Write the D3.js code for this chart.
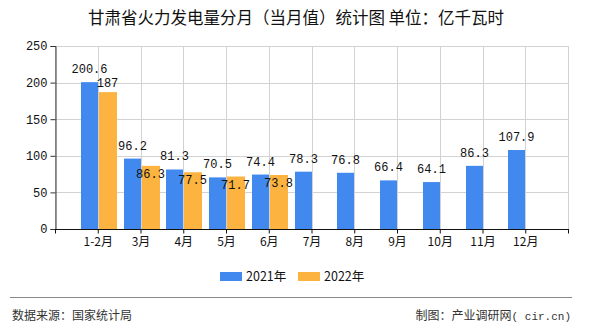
<!DOCTYPE html>
<html><head><meta charset="utf-8">
<script src="https://cdn.jsdelivr.net/npm/d3@7"></script>
<style>
html,body{margin:0;padding:0;background:#fff;}
svg{display:block;}
</style></head>
<body>
<script>
const categories = ["1-2月","3月","4月","5月","6月","7月","8月","9月","10月","11月","12月"];
const values2021 = [200.6,96.2,81.3,70.5,74.4,78.3,76.8,66.4,64.1,86.3,107.9];
const values2022 = [187,86.3,77.5,71.7,73.8];
const seriesNames = ["2021年","2022年"];
const yTicks = [0,50,100,150,200,250];
const colors = ["#4189ef","#fcb33f"];

(function(){
const W=590,H=330;
const svg=d3.select("body").append("svg").attr("width",W).attr("height",H);
const pl=55,pr=568,pt=46,pb=229;
const slot=(pr-pl)/12;
const x=d3.scalePoint().domain(categories).range([pl+slot,pr-slot]);
const y=d3.scaleLinear().domain([0,250]).range([pb,pt]);
const monoFont="'Liberation Mono','DejaVu Sans Mono',monospace";
const cjk="'Noto Sans CJK SC','Noto Sans',sans-serif";

svg.append("text").attr("x",296).attr("y",24).attr("text-anchor","middle")
  .attr("font-family",cjk).attr("font-size",16.5).attr("fill","#111")
  .text("甘肃省火力发电量分月（当月值）统计图 单位：亿千瓦时");

const grid=svg.append("g").attr("stroke","#d2d2d2").attr("stroke-width",1);
yTicks.forEach(t=>{ if(t>0) grid.append("line").attr("x1",pl).attr("x2",pr).attr("y1",Math.round(y(t))+0.5).attr("y2",Math.round(y(t))+0.5);});
const vx=[pl].concat(categories.map(c=>x(c))).concat([pr]);
vx.forEach(v=>grid.append("line").attr("x1",Math.round(v)+0.5).attr("x2",Math.round(v)+0.5).attr("y1",pt).attr("y2",pb));

const bw=17;
const g1=svg.append("g");
g1.selectAll("rect.a").data(values2021).enter().append("rect")
  .attr("x",(d,i)=>Math.round(x(categories[i]))-bw).attr("width",bw)
  .attr("y",d=>y(d)).attr("height",d=>pb-y(d)).attr("fill",colors[0]);
g1.selectAll("rect.b").data(values2022).enter().append("rect")
  .attr("x",(d,i)=>Math.round(x(categories[i]))+1).attr("width",bw+1)
  .attr("y",d=>y(d)).attr("height",d=>pb-y(d)).attr("fill",colors[1]);

const lab=svg.append("g").attr("font-family",monoFont).attr("font-size",12).attr("fill","#111").attr("text-anchor","middle");
values2021.forEach((v,i)=>{
  lab.append("text").attr("x",Math.round(x(categories[i]))-bw/2).attr("y",y(v)-9).text(v);
});
values2022.forEach((v,i)=>{
  const yy = v>150 ? y(v)-5 : y(v)+12;
  lab.append("text").attr("x",Math.round(x(categories[i]))+bw/2+1).attr("y",yy).text(v);
});

const yAxis=svg.append("g").attr("transform",`translate(${pl+0.5},0)`)
  .call(d3.axisLeft(y).tickValues(yTicks).tickSize(5).tickPadding(3));
yAxis.select(".domain").attr("stroke","#333");
yAxis.selectAll(".tick line").attr("stroke","#333");
yAxis.selectAll("text").attr("font-family",monoFont).attr("font-size",12).attr("fill","#111");

const xAxis=svg.append("g").attr("transform",`translate(0,${pb+0.5})`)
  .call(d3.axisBottom(x).tickSize(4).tickPadding(4).tickSizeOuter(0));
xAxis.select(".domain").attr("d",`M${pl},0H${pr+1}`).attr("stroke","#111");
xAxis.selectAll(".tick line").attr("stroke","#111");
xAxis.selectAll("text").attr("font-family",cjk).attr("font-size",12).attr("fill","#111");
[pl,pr].forEach(v=>xAxis.append("line").attr("x1",Math.round(v)+0.5).attr("x2",Math.round(v)+0.5).attr("y1",0).attr("y2",4).attr("stroke","#111"));

const leg=svg.append("g");
const legX=[220,298];
seriesNames.forEach((n,i)=>{
  leg.append("rect").attr("x",legX[i]).attr("y",272).attr("width",22).attr("height",9).attr("fill",colors[i]);
  leg.append("text").attr("x",legX[i]+26).attr("y",281).attr("font-family",cjk).attr("font-size",12.5).attr("fill","#111").text(n);
});

svg.append("line").attr("x1",10).attr("x2",572).attr("y1",297.5).attr("y2",297.5).attr("stroke","#888").attr("stroke-width",1);
svg.append("text").attr("x",12).attr("y",320).attr("font-family",cjk).attr("font-size",12).attr("fill","#333").text("数据来源：国家统计局");
const rt=svg.append("text").attr("x",571).attr("y",320).attr("text-anchor","end").attr("font-family",cjk).attr("font-size",12).attr("fill","#333");
rt.append("tspan").text("制图：产业调研网");
rt.append("tspan").attr("font-family",monoFont).attr("font-size",11).text("( cir.cn)");
})();
</script>
</body></html>
